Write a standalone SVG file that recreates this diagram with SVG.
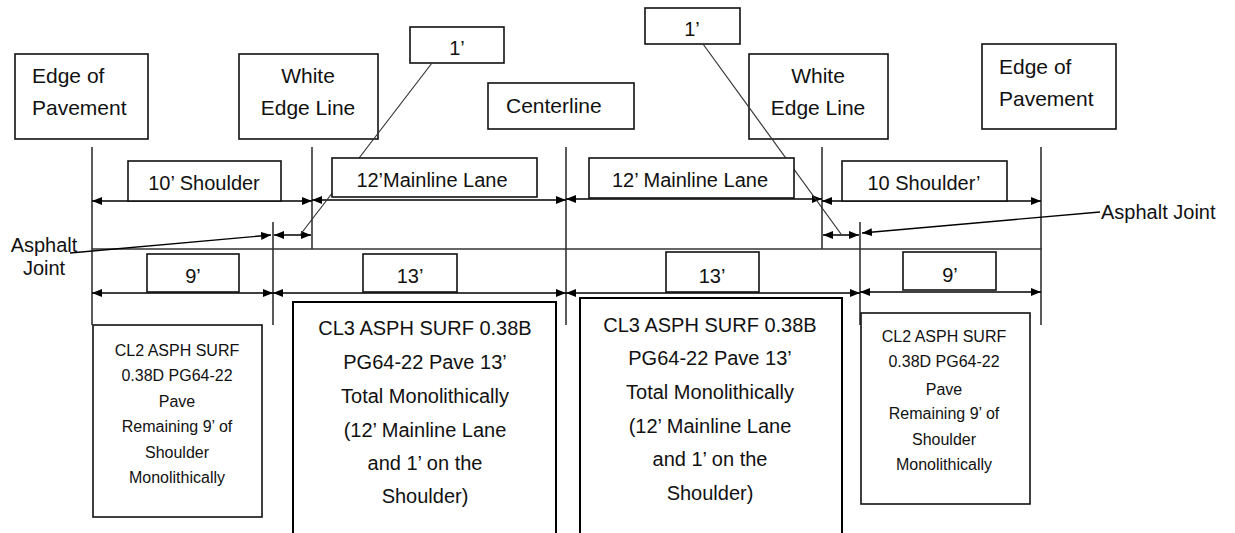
<svg xmlns="http://www.w3.org/2000/svg" width="1235" height="533" viewBox="0 0 1235 533">
<style>
.box{fill:#fff;stroke:#111;stroke-width:1.6}
.bbox{fill:#fff;stroke:#000;stroke-width:2}
.t{font-family:"Liberation Sans",Arial,sans-serif;fill:#111}
.lg{font-size:21px}
.md{font-size:20px}
.sm{font-size:16px}
.c{text-anchor:middle}
.v{stroke:#333;stroke-width:1.6;fill:none}
.d{stroke:#000;stroke-width:1.5;fill:none;marker-start:url(#ah);marker-end:url(#ah)}
.e{stroke:#000;stroke-width:1.3;fill:none;marker-end:url(#ah)}
.ld{stroke:#333;stroke-width:1.2;fill:none}
</style>
<defs>
<marker id="ah" viewBox="0 0 10 8" refX="10" refY="4" markerWidth="10" markerHeight="8" markerUnits="userSpaceOnUse" orient="auto-start-reverse">
<path d="M0,0 L10,4 L0,8 z" fill="#000"/>
</marker>
</defs>
<rect width="1235" height="533" fill="#fff"/>

<g id="connectors">
<line class="v" x1="92" y1="147" x2="92" y2="325"/>
<line class="v" x1="312" y1="147" x2="312" y2="249"/>
<line class="v" x1="273" y1="222" x2="273" y2="325"/>
<line class="v" x1="566" y1="147" x2="566" y2="325"/>
<line class="v" x1="822" y1="147" x2="822" y2="249"/>
<line class="v" x1="860" y1="222" x2="860" y2="325"/>
<line class="v" x1="1041" y1="147" x2="1041" y2="325"/>
<line class="v" x1="92" y1="249" x2="1042" y2="249"/>
<line class="d" x1="92" y1="201" x2="312" y2="201"/>
<line class="d" x1="312" y1="200" x2="566" y2="200"/>
<line class="d" x1="566" y1="199" x2="822" y2="199"/>
<line class="d" x1="822" y1="201" x2="1041" y2="201"/>
<line class="d" x1="274" y1="235" x2="311" y2="235"/>
<line class="d" x1="823" y1="235" x2="859" y2="235"/>
<line class="d" x1="92" y1="293" x2="273" y2="293"/>
<line class="d" x1="273" y1="293" x2="566" y2="293"/>
<line class="d" x1="566" y1="293" x2="860" y2="293"/>
<line class="d" x1="860" y1="292" x2="1041" y2="292"/>
<line class="e" x1="70" y1="253" x2="271" y2="235"/>
<line class="e" x1="1100" y1="212" x2="862" y2="233"/>
</g>

<g id="edge-left">
<rect class="box" x="15" y="54" width="133" height="85"/>
<text class="t lg" x="32" y="83">Edge of</text>
<text class="t lg" x="32" y="115">Pavement</text>
</g>
<g id="white-edge-left">
<rect class="box" x="239" y="54" width="139" height="85"/>
<text class="t lg c" x="308" y="83">White</text>
<text class="t lg c" x="308" y="115">Edge Line</text>
</g>
<g id="one-ft-left">
<rect class="box" x="410" y="27" width="94" height="36"/>
<text class="t md c" x="457" y="55">1’</text>
</g>
<g id="centerline">
<rect class="box" x="488" y="83" width="146" height="46"/>
<text class="t lg" x="506" y="113">Centerline</text>
</g>
<g id="one-ft-right">
<rect class="box" x="645" y="8" width="95" height="36"/>
<text class="t md c" x="692" y="36">1’</text>
</g>
<g id="white-edge-right">
<rect class="box" x="749" y="54" width="139" height="85"/>
<text class="t lg c" x="818" y="83">White</text>
<text class="t lg c" x="818" y="115">Edge Line</text>
</g>
<g id="edge-right">
<rect class="box" x="982" y="44" width="134" height="85"/>
<text class="t lg" x="999" y="74">Edge of</text>
<text class="t lg" x="999" y="106">Pavement</text>
</g>

<g id="leaders-1ft">
<line class="ld" x1="432" y1="63" x2="300" y2="235"/>
<line class="ld" x1="703" y1="44" x2="841" y2="234"/>
</g>

<g id="lbl-shoulder-left">
<rect class="box" x="128" y="161" width="153" height="40"/>
<text class="t md c" x="204" y="190">10’ Shoulder</text>
</g>
<g id="lbl-mainline-left">
<rect class="box" x="332" y="158" width="205" height="39"/>
<text class="t md c" x="432" y="187">12’Mainline Lane</text>
</g>
<g id="lbl-mainline-right">
<rect class="box" x="589" y="158" width="205" height="40"/>
<text class="t md c" x="690" y="187">12’ Mainline Lane</text>
</g>
<g id="lbl-shoulder-right">
<rect class="box" x="842" y="161" width="165" height="40"/>
<text class="t md c" x="924" y="190">10 Shoulder’</text>
</g>

<g id="asphalt-joint-left">
<text class="t md c" x="44" y="252">Asphalt</text>
<text class="t md c" x="44" y="275">Joint</text>
</g>
<g id="asphalt-joint-right">
<text class="t md" x="1101" y="219">Asphalt Joint</text>
</g>

<g id="lbl-9-left">
<rect class="box" x="147" y="254" width="92" height="38"/>
<text class="t md c" x="193" y="283">9’</text>
</g>
<g id="lbl-13-left">
<rect class="box" x="363" y="254" width="94" height="38"/>
<text class="t md c" x="410" y="283">13’</text>
</g>
<g id="lbl-13-right">
<rect class="box" x="666" y="252" width="93" height="40"/>
<text class="t md c" x="712" y="283">13’</text>
</g>
<g id="lbl-9-right">
<rect class="box" x="903" y="252" width="93" height="38"/>
<text class="t md c" x="950" y="282">9’</text>
</g>

<g id="cl2-left">
<rect class="box" x="93" y="325" width="169" height="192"/>
<text class="t sm c" x="177" y="356">CL2 ASPH SURF</text>
<text class="t sm c" x="177" y="381">0.38D PG64-22</text>
<text class="t sm c" x="177" y="407">Pave</text>
<text class="t sm c" x="177" y="432">Remaining 9’ of</text>
<text class="t sm c" x="177" y="458">Shoulder</text>
<text class="t sm c" x="177" y="483">Monolithically</text>
</g>
<g id="cl3-left">
<rect class="bbox" x="293" y="302" width="263" height="240"/>
<text class="t md c" x="425" y="335">CL3 ASPH SURF 0.38B</text>
<text class="t md c" x="425" y="369">PG64-22 Pave 13’</text>
<text class="t md c" x="425" y="403">Total Monolithically</text>
<text class="t md c" x="425" y="437">(12’ Mainline Lane</text>
<text class="t md c" x="425" y="470">and 1’ on the</text>
<text class="t md c" x="425" y="503">Shoulder)</text>
</g>
<g id="cl3-right">
<rect class="bbox" x="580" y="298" width="262" height="244"/>
<text class="t md c" x="710" y="332">CL3 ASPH SURF 0.38B</text>
<text class="t md c" x="710" y="365">PG64-22 Pave 13’</text>
<text class="t md c" x="710" y="399">Total Monolithically</text>
<text class="t md c" x="710" y="433">(12’ Mainline Lane</text>
<text class="t md c" x="710" y="466">and 1’ on the</text>
<text class="t md c" x="710" y="500">Shoulder)</text>
</g>
<g id="cl2-right">
<rect class="box" x="861" y="313" width="169" height="191"/>
<text class="t sm c" x="944" y="342">CL2 ASPH SURF</text>
<text class="t sm c" x="944" y="367">0.38D PG64-22</text>
<text class="t sm c" x="944" y="395">Pave</text>
<text class="t sm c" x="944" y="419">Remaining 9’ of</text>
<text class="t sm c" x="944" y="445">Shoulder</text>
<text class="t sm c" x="944" y="470">Monolithically</text>
</g>
</svg>
